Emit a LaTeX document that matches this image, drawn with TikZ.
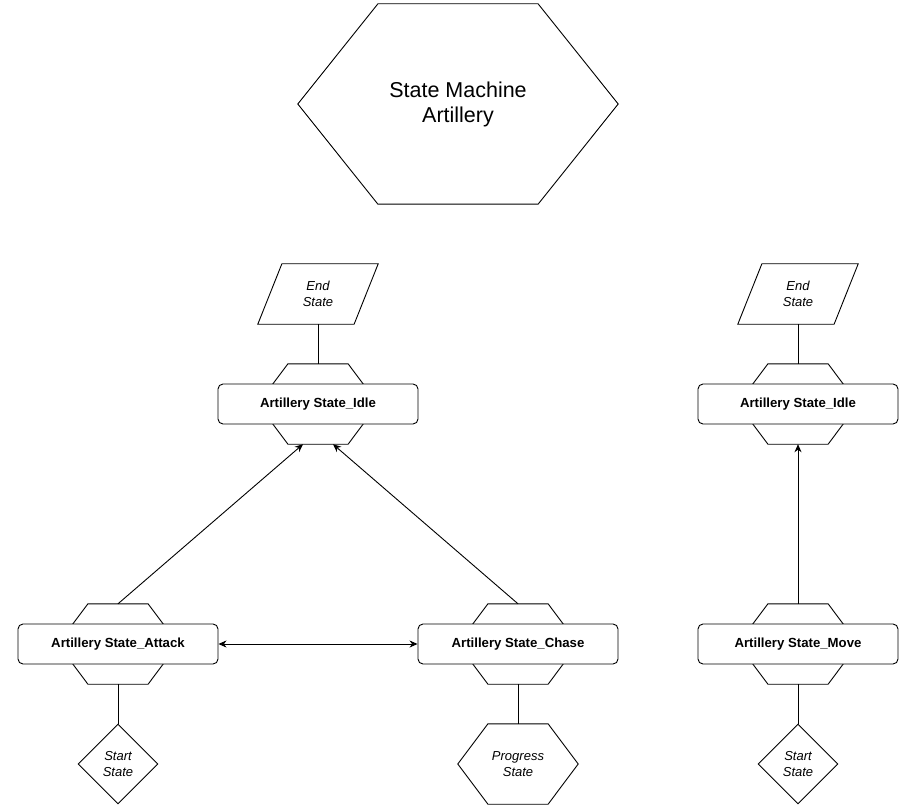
\documentclass[tikz,border=0pt]{standalone}
\usepackage{fontspec}
\setmainfont{Liberation Sans}
\usetikzlibrary{shapes.geometric,arrows.meta,calc}
\tikzset{
 hexbox/.style={rectangle, minimum width=120pt, minimum height=80pt, inner sep=0pt},
 statebox/.style={draw, fill=white, line width=0.9pt, rounded corners=5pt, minimum width=200pt, minimum height=40pt, inner sep=0pt, font=\fontsize{13.2}{15}\selectfont\bfseries},
 lbl/.style={font=\fontsize{13}{16}\selectfont\itshape, align=center},
 parabox/.style={rectangle, minimum width=120pt, minimum height=60pt, inner sep=0pt, lbl},
 startbox/.style={diamond, draw, line width=0.9pt, minimum width=80pt, minimum height=80pt, inner sep=0pt, aspect=1, lbl},
 titlebox/.style={rectangle, minimum width=320pt, minimum height=200pt, inner sep=0pt, align=center, font=\fontsize{21.5}{25}\selectfont},
 shp/.style={line width=0.9pt},
 link/.style={draw, line width=0.9pt},
 arr/.style={link, -{Stealth[length=8pt,width=7pt,inset=2.5pt]}},
 darr/.style={link, {Stealth[length=8pt,width=7pt,inset=2.5pt]}-{Stealth[length=8pt,width=7pt,inset=2.5pt]}}
}
\newcommand\hexpath[1]{%
 \draw[shp] ($(#1.north west)!0.25!(#1.north east)$) -- ($(#1.north west)!0.75!(#1.north east)$) -- (#1.east) -- ($(#1.south west)!0.75!(#1.south east)$) -- ($(#1.south west)!0.25!(#1.south east)$) -- (#1.west) -- cycle;}
\newcommand\parapath[1]{%
 \draw[shp] ($(#1.north west)!0.2!(#1.north east)$) -- (#1.north east) -- ($(#1.south west)!0.8!(#1.south east)$) -- (#1.south west) -- cycle;}
\begin{document}
\begin{tikzpicture}[x=1pt,y=-1pt]
\useasboundingbox (0,0) rectangle (918,810);
% title
\node[titlebox] (title) at (458,104) {State Machine\\Artillery};
\hexpath{title}
% left column group
\node[parabox] (endL) at (318,294) {End\\State};
\parapath{endL}
\node[hexbox] (idleLhex) at (318,404) {};
\hexpath{idleLhex}
\node[statebox] (idleL) at (318,404) {Artillery State\_Idle};
\node[hexbox] (attackHex) at (118,644) {};
\hexpath{attackHex}
\node[statebox] (attack) at (118,644) {Artillery State\_Attack};
\node[hexbox] (chaseHex) at (518,644) {};
\hexpath{chaseHex}
\node[statebox] (chase) at (518,644) {Artillery State\_Chase};
\node[startbox] (startL) at (118,764) {Start\\State};
\node[hexbox, lbl] (progress) at (518,764) {Progress\\State};
\hexpath{progress}
% right column
\node[parabox] (endR) at (798,294) {End\\State};
\parapath{endR}
\node[hexbox] (idleRhex) at (798,404) {};
\hexpath{idleRhex}
\node[statebox] (idleR) at (798,404) {Artillery State\_Idle};
\node[hexbox] (moveHex) at (798,644) {};
\hexpath{moveHex}
\node[statebox] (move) at (798,644) {Artillery State\_Move};
\node[startbox] (startR) at (798,764) {Start\\State};
% connectors
\coordinate (idleInA) at ($(idleLhex.south)+(-15,0)$);
\coordinate (idleInB) at ($(idleLhex.south)+(15,0)$);
\draw[link] (endL.south) -- (idleLhex.north);
\draw[link] (endR.south) -- (idleRhex.north);
\draw[arr] (attackHex.north) -- (idleInA);
\draw[arr] (chaseHex.north) -- (idleInB);
\draw[darr] (attack.east) -- (chase.west);
\draw[link] (attackHex.south) -- (startL.north);
\draw[link] (chaseHex.south) -- (progress.north);
\draw[arr] (moveHex.north) -- (idleRhex.south);
\draw[link] (moveHex.south) -- (startR.north);
\end{tikzpicture}
\end{document}
